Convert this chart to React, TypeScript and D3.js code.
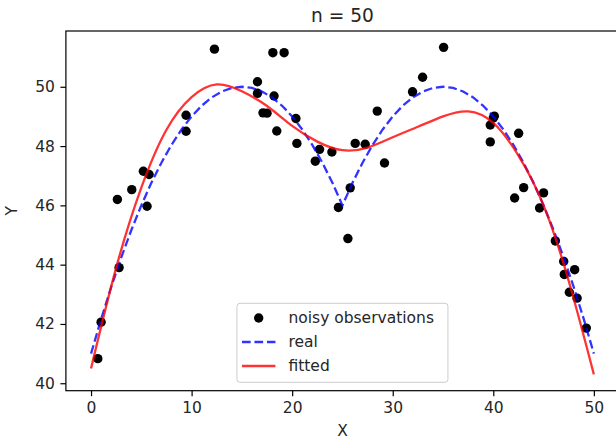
import React, { useEffect, useRef } from "react";
import * as d3 from "d3";

const WIDTH = 616;
const HEIGHT = 441;

// Noisy observations (x, y)
const obsX = [
  0.67, 1.0, 2.62, 2.79, 4.05, 5.2, 5.57, 5.77, 9.45, 9.45,
  12.27, 16.55, 16.55, 17.1, 17.5, 18.08, 18.2, 18.47, 19.2, 20.37,
  20.47, 22.3, 22.72, 23.95, 24.6, 25.54, 25.77, 26.27, 27.26, 28.46,
  29.18, 31.97, 32.97, 35.06, 39.7, 39.7, 40.0, 40.1, 42.12, 42.52,
  43.02, 44.6, 45.0, 46.17, 47.0, 47.06, 47.56, 48.09, 48.33, 49.25,
];
const obsY = [
  40.83, 42.06, 46.2, 43.9, 46.53, 47.15, 45.97, 47.04, 49.04, 48.5,
  51.27, 50.17, 49.78, 49.12, 49.11, 51.15, 49.69, 48.51, 51.15, 48.93,
  48.09, 47.49, 47.89, 47.8, 45.93, 44.88, 46.59, 48.09, 48.06, 49.18,
  47.43, 49.83, 50.32, 51.33, 48.71, 48.14, 48.95, 49.01, 46.25, 48.43,
  46.6, 45.91, 46.42, 44.8, 44.11, 43.67, 43.07, 43.83, 42.87, 41.86,
];

// Underlying curve
const realX = [
  0, 1, 2, 3, 4, 5, 6, 7, 8, 9, 10, 11, 12, 13, 14, 15, 16, 17, 18, 19, 20,
  21, 22, 23, 24, 25, 26, 27, 28, 29, 30, 31, 32, 33, 34, 35, 36, 37, 38, 39,
  40, 41, 42, 43, 44, 45, 46, 47, 48, 49, 50,
];
const realY = [
  41.0, 42.16, 43.24, 44.24, 45.16, 46.0, 46.76, 47.44, 48.04, 48.56, 49.0,
  49.36, 49.64, 49.84, 49.96, 50.0, 49.96, 49.84, 49.64, 49.36, 49.0,
  48.56, 48.04, 47.44, 46.76, 46.0, 46.76, 47.44, 48.04, 48.56, 49.0,
  49.36, 49.64, 49.84, 49.96, 50.0, 49.96, 49.84, 49.64, 49.36, 49.0,
  48.56, 48.04, 47.44, 46.76, 46.0, 45.16, 44.24, 43.24, 42.16, 41.0,
];

// Fitted curve
const fitX = [
  0, 2.5, 5, 7.5, 10, 12.5, 15, 17.5, 20, 22.5, 25,
  27.5, 30, 32.5, 35, 37.5, 40, 42.5, 45, 47.5, 50,
];
const fitY = [
  40.5, 43.9, 46.6, 48.55, 49.65, 50.08, 49.85, 49.35, 48.68, 48.15, 47.86,
  47.95, 48.3, 48.65, 49.0, 49.17, 48.78, 47.68, 46.0, 43.45, 40.3,
];

const xTicks = [0, 10, 20, 30, 40, 50];
const yTicks = [40, 42, 44, 46, 48, 50];

const FONT = "DejaVu Sans, Liberation Sans, sans-serif";

export default function App() {
  const ref = useRef<SVGSVGElement | null>(null);

  useEffect(() => {
    const svg = d3.select(ref.current);
    svg.selectAll("*").remove();

    const left = 65.9;
    const right = 619;
    const top = 31;
    const bottom = 390.7;

    const allX = [...obsX, ...realX, ...fitX];
    const allY = [...obsY, ...realY, ...fitY];
    const [x0, x1] = d3.extent(allX) as [number, number];
    const [y0, y1] = d3.extent(allY) as [number, number];
    const mx = (x1 - x0) * 0.05;
    const my = (y1 - y0) * 0.05;

    const x = d3.scaleLinear().domain([x0 - mx, x1 + mx]).range([left, right]);
    const y = d3.scaleLinear().domain([y0 - my, y1 + my]).range([bottom, top]);

    svg.append("rect").attr("width", WIDTH).attr("height", HEIGHT).attr("fill", "#fff");

    // clip to the axes area
    svg.append("defs").append("clipPath").attr("id", "axclip")
      .append("rect").attr("x", left).attr("y", top)
      .attr("width", right - left).attr("height", bottom - top);
    const plot = svg.append("g").attr("clip-path", "url(#axclip)");

    // observations
    plot.append("g").selectAll("circle")
      .data(obsX.map((v, i) => [v, obsY[i]]))
      .join("circle")
      .attr("cx", (d) => x(d[0]))
      .attr("cy", (d) => y(d[1]))
      .attr("r", 4.7)
      .attr("fill", "#000");

    const line = d3.line<number[]>().x((d) => x(d[0])).y((d) => y(d[1]));

    plot.append("path")
      .attr("d", line(realX.map((v, i) => [v, realY[i]])))
      .attr("fill", "none")
      .attr("stroke", "blue")
      .attr("stroke-opacity", 0.8)
      .attr("stroke-width", 2.3)
      .attr("stroke-dasharray", "8.7,3.8");

    const fitLine = d3.line<number[]>()
      .x((d) => x(d[0])).y((d) => y(d[1]))
      .curve(d3.curveNatural);
    plot.append("path")
      .attr("d", fitLine(fitX.map((v, i) => [v, fitY[i]])))
      .attr("fill", "none")
      .attr("stroke", "red")
      .attr("stroke-opacity", 0.8)
      .attr("stroke-width", 2.3);

    // axes
    const xAxis = d3.axisBottom(x).tickValues(xTicks).tickSize(5.5).tickPadding(5.5).tickSizeOuter(0);
    const yAxis = d3.axisLeft(y).tickValues(yTicks).tickSize(5.5).tickPadding(5.5).tickSizeOuter(0);

    const gx = svg.append("g").attr("transform", `translate(0,${bottom})`).call(xAxis);
    const gy = svg.append("g").attr("transform", `translate(${left},0)`).call(yAxis);
    [gx, gy].forEach((g) => {
      g.select(".domain").remove();
      g.selectAll("line").attr("stroke", "#000").attr("stroke-width", 1.2);
      g.selectAll("text")
        .attr("font-family", FONT)
        .attr("font-size", 15.5)
        .attr("fill", "#262626");
    });

    // frame
    svg.append("rect")
      .attr("x", left).attr("y", top)
      .attr("width", right - left).attr("height", bottom - top)
      .attr("fill", "none").attr("stroke", "#000").attr("stroke-width", 1.2);

    const cx = (left + right) / 2;

    svg.append("text")
      .attr("x", cx).attr("y", 21.5)
      .attr("text-anchor", "middle")
      .attr("font-family", FONT).attr("font-size", 18.6).attr("fill", "#262626")
      .text("n = 50");

    svg.append("text")
      .attr("x", cx).attr("y", 436)
      .attr("text-anchor", "middle")
      .attr("font-family", FONT).attr("font-size", 15.5).attr("fill", "#262626")
      .text("X");

    svg.append("text")
      .attr("transform", `translate(17,${(top + bottom) / 2}) rotate(-90)`)
      .attr("text-anchor", "middle")
      .attr("font-family", FONT).attr("font-size", 15.5).attr("fill", "#262626")
      .text("Y");

    // legend
    const lg = svg.append("g");
    const lw = 211;
    const lh = 79;
    const lx = cx - lw / 2;
    const ly = bottom - 8.4 - lh;
    lg.append("rect")
      .attr("x", lx).attr("y", ly).attr("width", lw).attr("height", lh)
      .attr("rx", 3).attr("fill", "#fff").attr("fill-opacity", 0.8)
      .attr("stroke", "#cccccc").attr("stroke-width", 1);

    const rows = [
      { label: "noisy observations", kind: "dot" },
      { label: "real", kind: "dash" },
      { label: "fitted", kind: "solid" },
    ];
    const hx0 = lx + 5;
    const hx1 = lx + 38.5;
    rows.forEach((r, i) => {
      const ry = ly + 14.7 + i * 24;
      if (r.kind === "dot") {
        lg.append("circle").attr("cx", (hx0 + hx1) / 2).attr("cy", ry).attr("r", 4.7).attr("fill", "#000");
      } else {
        lg.append("line")
          .attr("x1", hx0).attr("x2", hx1).attr("y1", ry).attr("y2", ry)
          .attr("stroke", r.kind === "dash" ? "blue" : "red")
          .attr("stroke-opacity", 0.8)
          .attr("stroke-width", 2.3)
          .attr("stroke-dasharray", r.kind === "dash" ? "8.7,3.8" : null);
      }
      lg.append("text")
        .attr("x", lx + 51.5).attr("y", ry).attr("dy", "0.35em")
        .attr("font-family", FONT).attr("font-size", 15.5).attr("fill", "#262626")
        .text(r.label);
    });
  }, []);

  return (
    <svg
      ref={ref}
      width={WIDTH}
      height={HEIGHT}
      style={{ position: "absolute", left: 0, top: 0, display: "block" }}
    />
  );
}
